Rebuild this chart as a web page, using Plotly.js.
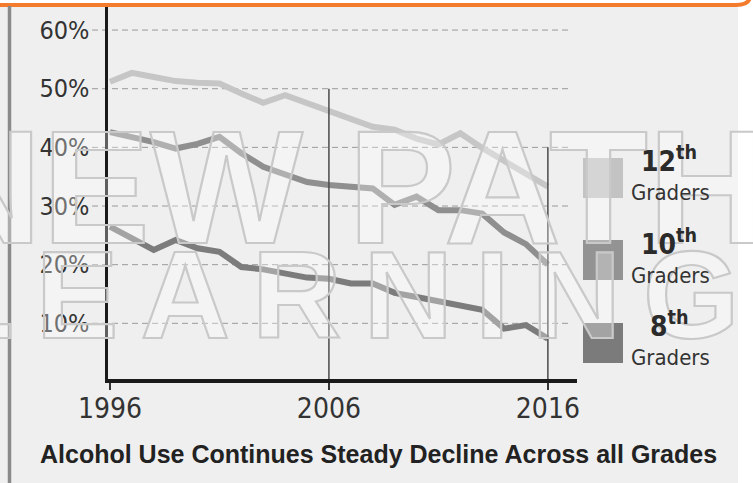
<!DOCTYPE html>
<html>
<head>
<meta charset="utf-8">
<script src="https://cdn.plot.ly/plotly-3.0.1.min.js"></script>
<style>
  html, body { margin: 0; padding: 0; background: #ffffff; }
  #chart { width: 753px; height: 483px; }
</style>
</head>
<body>
<div id="chart"></div>
<script>
// ---- data ----
var years = [1996, 1997, 1998, 1999, 2000, 2001, 2002, 2003, 2004, 2005, 2006,
             2007, 2008, 2009, 2010, 2011, 2012, 2013, 2014, 2015, 2016];
var grade12 = [51.2, 52.7, 52.0, 51.3, 51.0, 50.9, 49.2, 47.6, 48.9, 47.5, 46.3,
               44.7, 43.5, 43.0, 41.5, 40.5, 42.4, 39.9, 37.6, 35.4, 33.3];
var grade10 = [42.6, 41.8, 40.9, 39.8, 40.6, 41.8, 39.0, 36.7, 35.3, 34.1, 33.6,
               33.3, 33.0, 30.2, 31.6, 29.3, 29.3, 28.7, 25.5, 23.5, 20.0];
var grade8  = [26.5, 24.5, 22.5, 24.2, 22.8, 22.2, 19.6, 19.2, 18.6, 17.8, 17.6,
               16.8, 16.8, 15.2, 14.5, 13.7, 13.1, 12.3, 9.1, 9.7, 7.4];
var seriesNames = ['12th Graders', '10th Graders', '8th Graders'];
var legendNums = ['12', '10', '8'];
var yTickVals = [10, 20, 30, 40, 50, 60];
var yTickText = ['10%', '20%', '30%', '40%', '50%', '60%'];
var xTickVals = [1996, 2006, 2016];
var xTickText = ['1996', '2006', '2016'];
var markerYears = [2006, 2016];
var markerTops = [50, 40];
var chartTitle = 'Alcohol Use Continues Steady Decline Across all Grades';
var watermark = ['NEW PATH', 'LEARNING'];

// ---- styling ----
var lineColors = ['#c6c6c6', '#8f8f8f', '#7c7c7c'];
var squareColors = ['#c3c3c3', '#939393', '#7b7b7b'];
var NARROW = '"Liberation Sans Narrow", "Arial Narrow", "DejaVu Sans Condensed", sans-serif';
var SANS = '"Liberation Sans", Arial, sans-serif';

// pixel -> paper helpers (plot area: x 108..577, y 7..379)
var L = 108, R = 577, T = 7, B = 379;
function px(X) { return (X - L) / (R - L); }
function py(Y) { return (B - Y) / (B - T); }

var allSeries = [grade12, grade10, grade8];
var data = allSeries.map(function (vals, i) {
  return {
    x: years, y: vals, type: 'scatter', mode: 'lines', name: seriesNames[i],
    line: { color: lineColors[i], width: 6 }, showlegend: false, hoverinfo: 'x+y'
  };
});

var shapes = [];
// panel background
shapes.push({ type: 'rect', xref: 'paper', yref: 'paper', layer: 'below',
  x0: px(0), x1: px(738), y0: py(490), y1: py(6), fillcolor: '#efefef', line: { width: 0 } });
// orange border of the box above
shapes.push({ type: 'path', xref: 'paper', yref: 'paper', layer: 'below',
  path: 'M ' + px(-5) + ',' + py(5) + ' L ' + px(736) + ',' + py(5) +
        ' Q ' + px(749) + ',' + py(5) + ' ' + px(750) + ',' + py(-3),
  line: { color: '#f47a2c', width: 4 } });
// left gray rule
shapes.push({ type: 'line', xref: 'paper', yref: 'paper', layer: 'below',
  x0: px(9.5), x1: px(9.5), y0: py(6), y1: py(490), line: { color: '#8a8a8a', width: 3.5 } });
// dashed gridlines
yTickVals.forEach(function (v) {
  shapes.push({ type: 'line', xref: 'paper', yref: 'y', layer: 'below',
    x0: px(92), x1: px(568), y0: v, y1: v, line: { color: '#9a9a9a', width: 1, dash: '6px,4px' } });
});
// vertical marker lines
markerYears.forEach(function (yr, i) {
  shapes.push({ type: 'line', xref: 'x', yref: 'y', layer: 'above',
    x0: yr, x1: yr, y0: 0, y1: markerTops[i], line: { color: '#4a4a4a', width: 1.5 } });
});
// legend squares
var sqTop = [158, 240, 323];
sqTop.forEach(function (t, i) {
  shapes.push({ type: 'rect', xref: 'paper', yref: 'paper', layer: 'above',
    x0: px(583), x1: px(623), y0: py(t + 40), y1: py(t), fillcolor: squareColors[i], line: { width: 0 } });
});

var annotations = [];
// watermark
annotations.push({ xref: 'paper', yref: 'paper', x: px(345), y: py(186), xanchor: 'center', yanchor: 'middle',
  text: watermark[0], showarrow: false, font: { family: SANS, size: 162, weight: 700, color: 'rgba(255,255,255,0.3)' } });
annotations.push({ xref: 'paper', yref: 'paper', x: px(350), y: py(295), xanchor: 'center', yanchor: 'middle',
  text: watermark[1], showarrow: false, font: { family: SANS, size: 124, weight: 700, color: 'rgba(255,255,255,0.3)' } });
// legend labels
var numY = [159, 242, 324];
var gradY = [192, 275, 357];
legendNums.forEach(function (n, i) {
  annotations.push({ xref: 'paper', yref: 'paper', x: px(669), y: py(numY[i]), xanchor: 'center', yanchor: 'middle',
    text: '<b>' + n + '<sup>th</sup></b>', showarrow: false,
    font: { family: NARROW, size: 28, color: '#2b2b2b' } });
  annotations.push({ xref: 'paper', yref: 'paper', x: px(670), y: py(gradY[i]), xanchor: 'center', yanchor: 'middle',
    text: 'Graders', showarrow: false, font: { family: NARROW, size: 22, color: '#333333' } });
});
// bottom caption
annotations.push({ xref: 'paper', yref: 'paper', x: px(378), y: py(454), xanchor: 'center', yanchor: 'middle',
  text: '<b>' + chartTitle + '</b>', showarrow: false, font: { family: SANS, size: 25, color: '#222222' } });

var layout = {
  width: 753, height: 483,
  margin: { l: L, r: 753 - R, t: T, b: 483 - B, pad: 0 },
  paper_bgcolor: '#ffffff', plot_bgcolor: 'rgba(0,0,0,0)',
  showlegend: false,
  xaxis: {
    range: [1995.91, 2017.33], tickvals: xTickVals, ticktext: xTickText,
    showgrid: false, zeroline: false, showline: true, linecolor: '#1a1a1a', linewidth: 3.5,
    ticks: 'outside', ticklen: 7, tickwidth: 1.5, tickcolor: '#333',
    tickfont: { family: NARROW, size: 28, color: '#333333' }, ticklabelstandoff: -5
  },
  yaxis: {
    range: [0.51, 63.93], tickvals: yTickVals, ticktext: yTickText,
    showgrid: false, zeroline: false, showline: true, linecolor: '#1a1a1a', linewidth: 3.5,
    ticks: '', tickfont: { family: NARROW, size: 25, color: '#333333' }, ticklabelstandoff: 10
  },
  shapes: shapes,
  annotations: annotations
};

Plotly.newPlot('chart', data, layout, { staticPlot: true, displayModeBar: false }).then(function (gd) {
  var groups = gd.querySelectorAll('.annotation');
  groups.forEach(function (g) {
    var idx = g.getAttribute('data-index');
    if (idx === '0' || idx === '1') {
      var t = g.querySelector('text');
      if (t) {
        t.style.stroke = '#c9c9c9';
        t.style.strokeWidth = '2.2px';
        if (idx === '1') t.style.letterSpacing = '22px';
      }
    }
  });
});
</script>
</body>
</html>
